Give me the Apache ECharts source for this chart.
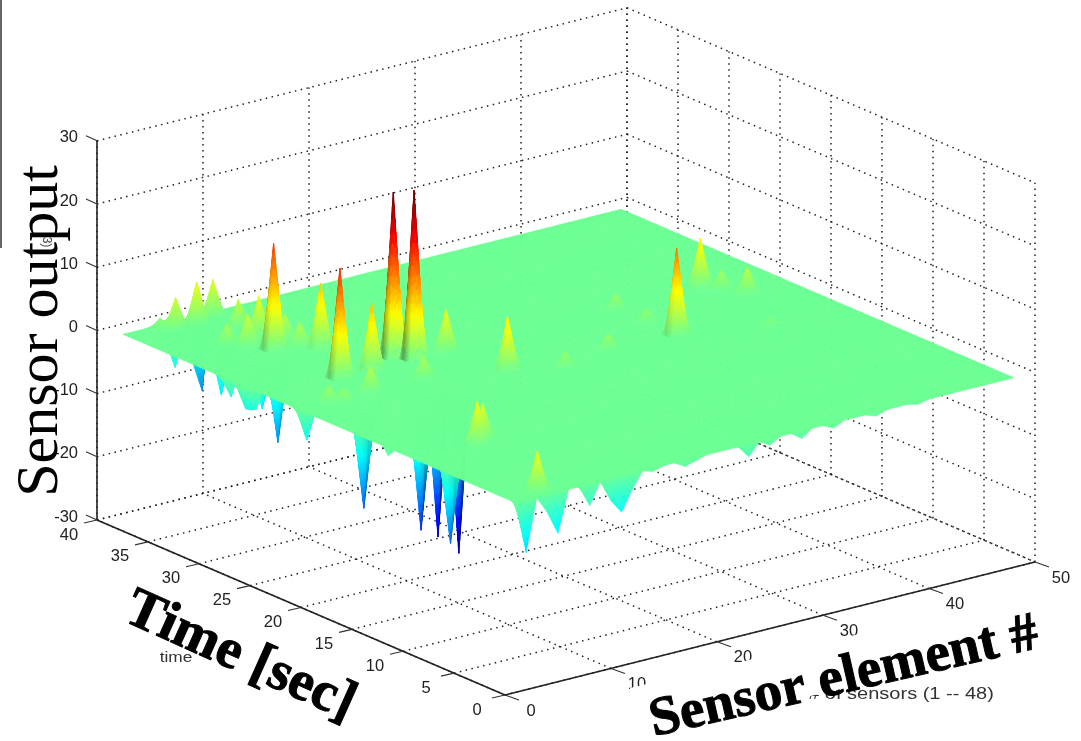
<!DOCTYPE html>
<html><head><meta charset="utf-8">
<script src="https://cdn.jsdelivr.net/npm/echarts@6/dist/echarts.min.js"></script>
<style>html,body{margin:0;background:#fff}#c{width:1081px;height:741px;filter:blur(0.45px)}</style></head>
<body><div id="c"></div>
<script>
// Sensor numbers along the surface
const sensors = [1,2,3,4,5,6,7,8,9,10,11,12,13,14,15,16,17,18,19,20,21,22,23,24,25,26,27,28,29,30,31,32,33,34,35,36,37,38,39,40,41,42,43,44,45,46,47,48];
// Time samples [sec]
const times = [0,.5,1,1.5,2,2.5,3,3.5,4,4.5,5,5.5,6,6.5,7,7.5,8,8.5,9,9.5,10,10.5,11,11.5,12,12.5,13,13.5,14,14.5,15,15.5,16,16.5,17,17.5,18,18.5,19,19.5,20,20.5,21,21.5,22,22.5,23,23.5,24,24.5,25,25.5,26,26.5,27,27.5,28,28.5,29,29.5,30,30.5,31,31.5,32,32.5,33,33.5,34,34.5,35,35.5,36,36.5,37,37.5,38,38.5];
// Readings that differ from the flat baseline: [sensor, time, output]
const positiveReadings = [
 [14,25.5,26],[15,24.5,26.6],[8,31,16.6],[8,24.5,17.2],[11,29.5,10.1],[11,24.5,10.4],[18,24.5,6.4],[19,19.5,8.4],
 [9,33.5,6.2],[10,32,4],[10,30.5,3.6],[7,32.5,4.8],[13,21.5,3.2],[8,21.5,3.8],[4,21.5,2.4],[5,21,1.9],
 [9,38,5.6],[7,37.5,6.4],[5,37.5,4.8],[4,38,1.6],[9,35.5,4.2],[6,33.5,3],
 [34,18.5,13.6],[42,24.5,7.6],[43,23.5,2.8],[44,22,4],[34,24.5,2.2],[34,21.5,2],[28,19,2.2],[23,18,2.2],[41,16.5,1],
 [7,10,6.6],[8,10.5,5.4],[4,1,6.2]
];
const negativeReadings = [
 [7,15.5,-17.6],[11,18,-22.1],[4,9.5,-14.3],[12,17,-24.4],[2,0,-8.3],[5,0,-6.5],[4,0,-2.8],[8,0,-3.4],[11,0,-5.7],[10,0,-3.5],[12,0,-2.5],
 [17,0,-1],[18,0,-.5],[14,0,-.5],[23,0,-2],[25,0,-1],[28,0,-1.2],[31,0,-.8],[35,0,-.6],[39,0,-.4],
 [4,36.5,-5.1],[8,38,-11.5],[7,38,-6],[5,33,-7.5],[4,31,-6],[2,27.5,-4.6],[2,26.5,-4],[2,27,-4.4],[5,29,-6.9],[6,28.5,-12.3],[2,21.5,-5.4],[4,18,-14.6],[1,12.5,-1.2],[2,29,-3.5]
];
// Axis ticks
const xTicks = [0,10,20,30,40,50];
const yTicks = [0,5,10,15,20,25,30,35,40];
const zTicks = [-30,-20,-10,0,10,20,30];

// Orthographic view of the 3-D box onto the page
const view = {ox:505, oy:695, xx:10.6, xy:-2.66, yx:-10.2, yy:-4.375, zy:-6.32, zmin:-30};
function project(x,y,z){
  return [view.ox + x*view.xx + y*view.yx, view.oy + x*view.xy + y*view.yy + (z-view.zmin)*view.zy];
}
const surface = sensors.map(()=>times.map(()=>0));
positiveReadings.concat(negativeReadings).forEach(r=>{ surface[sensors.indexOf(r[0])][times.indexOf(r[1])] = r[2]; });

function jet(t){
  t=Math.max(0,Math.min(1,t));
  const f=(a)=>Math.max(0,Math.min(1,1.5-Math.abs(4*t-a)));
  return [f(3),f(2),f(1)];
}
function color(z,shade){
  const c=jet(z>0 ? 0.481+z*0.0212 : 0.481+z*0.0185);
  return 'rgb('+c.map(v=>Math.round(v*255*shade)).join(',')+')';
}
function quad(api,x0,x1,y0,y1,zs,z,shade){
  const pts=[project(x0,y0,zs[0]),project(x1,y0,zs[1]),project(x1,y1,zs[2]),project(x0,y1,zs[3])].map(p=>api.coord(p));
  const col=color(z,shade);
  return {type:'polygon',shape:{points:pts},style:{fill:col,stroke:col,lineWidth:0.6},silent:true};
}
function drawCell(api,i,j,clampFloor){
  const x0=sensors[i],x1=sensors[i+1],y0=times[j],y1=times[j+1];
  let a=surface[i][j],b=surface[i+1][j],c=surface[i+1][j+1],d=surface[i][j+1];
  if(clampFloor){a=Math.max(a,0);b=Math.max(b,0);c=Math.max(c,0);d=Math.max(d,0);}
  const range=Math.max(a,b,c,d)-Math.min(a,b,c,d);
  if(range<0.01) return quad(api,x0,x1,y0,y1,[a,b,c,d],a,1);
  const n=range>12?12:range>4?7:4, kids=[];
  const val=(u,v)=>a*(1-u)*(1-v)+b*u*(1-v)+c*u*v+d*(1-u)*v;
  for(let p=n-1;p>=0;p--)for(let q=n-1;q>=0;q--){
    const u0=p/n,u1=(p+1)/n,v0=q/n,v1=(q+1)/n;
    const zs=[val(u0,v0),val(u1,v0),val(u1,v1),val(u0,v1)];
    const zm=(zs[0]+zs[1]+zs[2]+zs[3])/4;
    const dzx=(zs[1]+zs[2]-zs[0]-zs[3])/2*n, dzy=(zs[2]+zs[3]-zs[0]-zs[1])/2*n;
    const facing=Math.max(0,Math.min(1,(dzx-dzy)/30))*Math.min(1,Math.max(range-6,0)/12);
    kids.push(quad(api,x0+(x1-x0)*u0,x0+(x1-x0)*u1,y0+(y1-y0)*v0,y0+(y1-y0)*v1,zs,zm,1-0.4*facing));
  }
  return {type:'group',children:kids};
}
const renderUnder=(params,api)=>drawCell(api,api.value(0),api.value(1),false);
const renderOver=(params,api)=>drawCell(api,api.value(0),api.value(1),true);
const cells=[],underCells=[];
for(let i=sensors.length-2;i>=0;i--)for(let j=times.length-2;j>=0;j--){
  cells.push([i,j]);
  if(Math.min(surface[i][j],surface[i+1][j],surface[i+1][j+1],surface[i][j+1])<0) underCells.push([i,j]);
}

// Dotted box grid
const gridSegs=[];
xTicks.forEach(x=>{gridSegs.push([x,0,-30,x,40,-30]);gridSegs.push([x,40,-30,x,40,30]);});
yTicks.forEach(y=>{gridSegs.push([0,y,-30,50,y,-30]);gridSegs.push([50,y,-30,50,y,30]);});
zTicks.forEach(z=>{gridSegs.push([0,40,z,50,40,z]);gridSegs.push([50,40,z,50,0,z]);});
function renderSeg(params,api){
  const p=api.coord(project(api.value(0),api.value(1),api.value(2)));
  const q=api.coord(project(api.value(3),api.value(4),api.value(5)));
  return {type:'line',shape:{x1:p[0],y1:p[1],x2:q[0],y2:q[1]},style:{stroke:'#222',lineWidth:1.5,lineDash:[1.5,4.5]},silent:true};
}
// Solid axes with ticks and labels
const axisKinds={x:{dir:[14,5],lab:[26,16],al:'center'},y:{dir:[-13,3],lab:[-28,15],al:'center'},z:{dir:[-11,-5],lab:[-19,-3],al:'right'}};
const axisItems=[];
xTicks.forEach(v=>axisItems.push(['x',v,0,-30,String(v)]));
yTicks.forEach(v=>axisItems.push(['y',0,v,-30,String(v)]));
zTicks.forEach(v=>axisItems.push(['z',0,40,v,String(v)]));
function renderTick(params,api){
  const it=axisItems[params.dataIndex],k=axisKinds[it[0]];
  const p=api.coord(project(it[1],it[2],it[3]));
  return {type:'group',children:[
    {type:'line',shape:{x1:p[0],y1:p[1],x2:p[0]+k.dir[0],y2:p[1]+k.dir[1]},style:{stroke:'#333',lineWidth:1.1}},
    {type:'text',x:p[0]+k.lab[0],y:p[1]+k.lab[1],style:{text:it[4],fill:'#222',font:'16.5px "Liberation Sans"',textAlign:k.al,textVerticalAlign:'middle'}}
  ]};
}
const axisLines=[[0,0,-30,50,0,-30],[0,0,-30,0,40,-30],[0,40,-30,0,40,30]];
function renderAxis(params,api){
  const p=api.coord(project(api.value(0),api.value(1),api.value(2)));
  const q=api.coord(project(api.value(3),api.value(4),api.value(5)));
  return {type:'line',shape:{x1:p[0],y1:p[1],x2:q[0],y2:q[1]},style:{stroke:'#222',lineWidth:1.6},silent:true};
}
const chart=echarts.init(document.getElementById('c'),null,{renderer:'canvas'});
chart.setOption({
  animation:false,
  backgroundColor:'#fff',
  grid:{left:0,right:0,top:0,bottom:0},
  xAxis:{type:'value',min:0,max:1081,show:false},
  yAxis:{type:'value',min:0,max:741,inverse:true,show:false},
  series:[
    {type:'custom',data:gridSegs,renderItem:renderSeg,clip:false,silent:true,z:1,progressive:0},
    {type:'custom',data:axisLines,renderItem:renderAxis,clip:false,silent:true,z:2,progressive:0},
    {type:'custom',data:axisItems.map((a,i)=>[i]),renderItem:renderTick,clip:false,silent:true,z:2,progressive:0},
    {type:'custom',data:underCells,renderItem:renderUnder,clip:false,silent:true,z:3,progressive:0},
    {type:'custom',data:cells,renderItem:renderOver,clip:false,silent:true,z:4,progressive:0}
  ],
  graphic:{elements:[
    {type:'rect',z:50,shape:{x:0,y:0,width:2,height:248},style:{fill:'#666'}},
    {type:'text',z:50,x:176,y:658,scaleX:1.15,style:{text:'time',font:'15px "Liberation Sans"',fill:'#333',textAlign:'center',textVerticalAlign:'middle'}},
    {type:'text',z:50,x:901,y:695,scaleX:1.25,style:{text:'# of sensors (1 -- 48)',font:'16px "Liberation Sans"',fill:'#333',textAlign:'center',textVerticalAlign:'middle'}},
    {type:'text',z:50,x:46,y:240,rotation:-Math.PI/2,style:{text:'(3)',font:'12px "Liberation Sans"',fill:'#444',textAlign:'center',textVerticalAlign:'middle'}},
    {type:'polygon',z:60,shape:{points:[[630,688],[1050,589],[1050,639],[630,739]]},style:{fill:'#fff'}},
    {type:'text',z:70,x:41,y:331,rotation:Math.PI/2,style:{text:'Sensor output',font:'60px "Liberation Serif"',fill:'#000',textAlign:'center',textVerticalAlign:'middle'}},
    {type:'text',z:70,x:240,y:657,rotation:-0.42,style:{text:'Time [sec]',font:'bold 56px "Liberation Serif"',fill:'#000',stroke:'#000',lineWidth:1,textAlign:'center',textVerticalAlign:'middle'}},
    {type:'text',z:70,x:844,y:678,rotation:0.226,style:{text:'Sensor element #',font:'bold 55px "Liberation Serif"',fill:'#000',stroke:'#000',lineWidth:1,textAlign:'center',textVerticalAlign:'middle'}}
  ]}
});
</script></body></html>
